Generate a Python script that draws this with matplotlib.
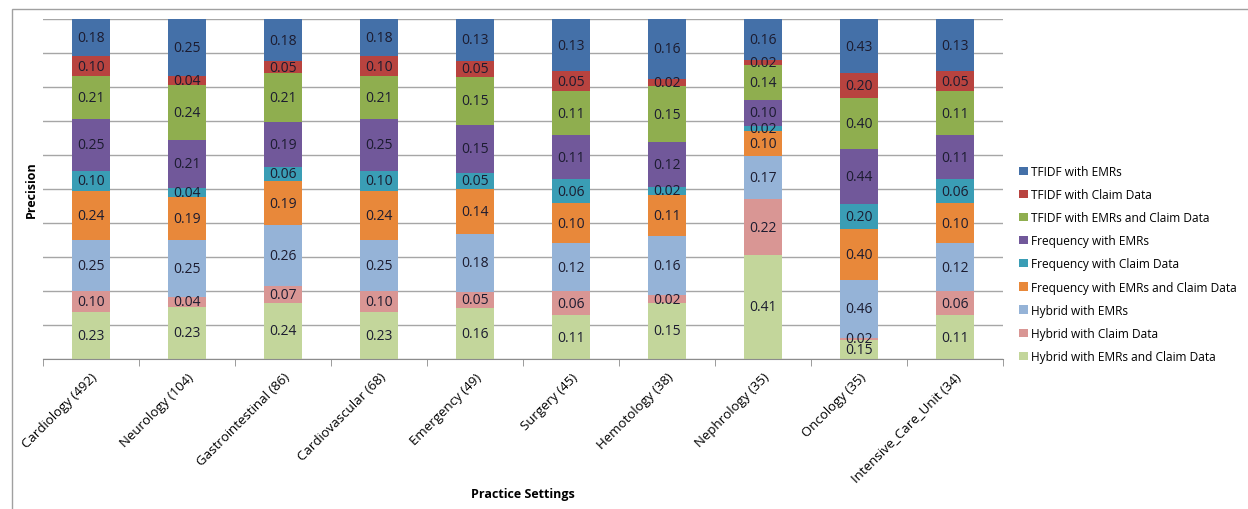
import numpy as np
import matplotlib.pyplot as plt
from matplotlib.patches import Rectangle

plt.rcParams['font.family'] = ['Open Sans', 'DejaVu Sans']

settings = ['Cardiology (492)', 'Neurology (104)', 'Gastrointestinal (86)', 'Cardiovascular (68)',
            'Emergency (49)', 'Surgery (45)', 'Hemotology (38)', 'Nephrology (35)',
            'Oncology (35)', 'Intensive_Care_Unit (34)']

# stacked bottom -> top
hybrid_emr_claim = [0.23, 0.23, 0.24, 0.23, 0.16, 0.11, 0.15, 0.41, 0.15, 0.11]
hybrid_claim = [0.10, 0.04, 0.07, 0.10, 0.05, 0.06, 0.02, 0.22, 0.02, 0.06]
hybrid_emr = [0.25, 0.25, 0.26, 0.25, 0.18, 0.12, 0.16, 0.17, 0.46, 0.12]
freq_emr_claim = [0.24, 0.19, 0.19, 0.24, 0.14, 0.10, 0.11, 0.10, 0.40, 0.10]
freq_claim = [0.10, 0.04, 0.06, 0.10, 0.05, 0.06, 0.02, 0.02, 0.20, 0.06]
freq_emr = [0.25, 0.21, 0.19, 0.25, 0.15, 0.11, 0.12, 0.10, 0.44, 0.11]
tfidf_emr_claim = [0.21, 0.24, 0.21, 0.21, 0.15, 0.11, 0.15, 0.14, 0.40, 0.11]
tfidf_claim = [0.10, 0.04, 0.05, 0.10, 0.05, 0.05, 0.02, 0.02, 0.20, 0.05]
tfidf_emr = [0.18, 0.25, 0.18, 0.18, 0.13, 0.13, 0.16, 0.16, 0.43, 0.13]

series = [
    ('Hybrid with EMRs and Claim Data', hybrid_emr_claim, '#C3D69B'),
    ('Hybrid with Claim Data', hybrid_claim, '#D99694'),
    ('Hybrid with EMRs', hybrid_emr, '#95B3D7'),
    ('Frequency with EMRs and Claim Data', freq_emr_claim, '#E8883A'),
    ('Frequency with Claim Data', freq_claim, '#3A9DB5'),
    ('Frequency with EMRs', freq_emr, '#71589A'),
    ('TFIDF with EMRs and Claim Data', tfidf_emr_claim, '#8FAE4F'),
    ('TFIDF with Claim Data', tfidf_claim, '#B8433F'),
    ('TFIDF with EMRs', tfidf_emr, '#4470A8'),
]

vals = np.array([s[1] for s in series])
totals = vals.sum(axis=0)
pct = vals / totals * 100

fig = plt.figure(figsize=(12.48, 5.10), dpi=100)
ax = fig.add_axes([43/1248, 1 - 360/510, 960/1248, 340/510])

x = np.arange(len(settings))
bottom = np.zeros(len(settings))
handles = []
for (name, v, col), p in zip(series, pct):
    b = ax.bar(x, p, 0.4, bottom=bottom, color=col, label=name, zorder=2)
    handles.append(b)
    for i in range(len(x)):
        ax.text(x[i], bottom[i] + p[i] / 2, '%.2f' % v[i], ha='center', va='center',
                fontsize=10, color='#1c1c30', zorder=3)
    bottom += p

ax.set_xlim(-0.5, len(settings) - 0.5)
ax.set_ylim(0, 100)
ax.set_yticks(np.arange(0, 101, 10))
ax.yaxis.grid(True, color='#A6A6A6', linewidth=1, zorder=0)
ax.tick_params(axis='y', left=False, labelleft=False)
for s in ['left', 'right', 'top']:
    ax.spines[s].set_visible(False)
ax.spines['bottom'].set_color('#8C8C8C')

ax.set_xticks(x)
ax.set_xticklabels(settings, rotation=45, ha='right', rotation_mode='anchor', fontsize=9.5)
ax.tick_params(axis='x', which='major', length=0, pad=8)
ax.set_xticks(np.arange(-0.5, len(settings)), minor=True)
ax.tick_params(axis='x', which='minor', length=5, color='#8C8C8C')

ax.set_ylabel('Precision', fontsize=9, fontweight='bold', labelpad=4)
ax.set_xlabel('Practice Settings', fontsize=9, fontweight='bold', va='center')
ax.xaxis.set_label_coords(0.5, (360 - 495) / 340)

leg = ax.legend(handles[::-1], [s[0] for s in series][::-1], loc='upper left',
                bbox_to_anchor=(1.012, 0.585), frameon=False, fontsize=8.6,
                handlelength=0.7, handleheight=0.7, handletextpad=0.3, labelspacing=0.85,
                borderaxespad=0)

fig.patches.append(Rectangle((12/1248, -0.1), 1.2, 1.1 - 10/510, transform=fig.transFigure,
                             fill=False, edgecolor='#A0A0A0', linewidth=1))

fig.savefig('out.png', dpi=100)
